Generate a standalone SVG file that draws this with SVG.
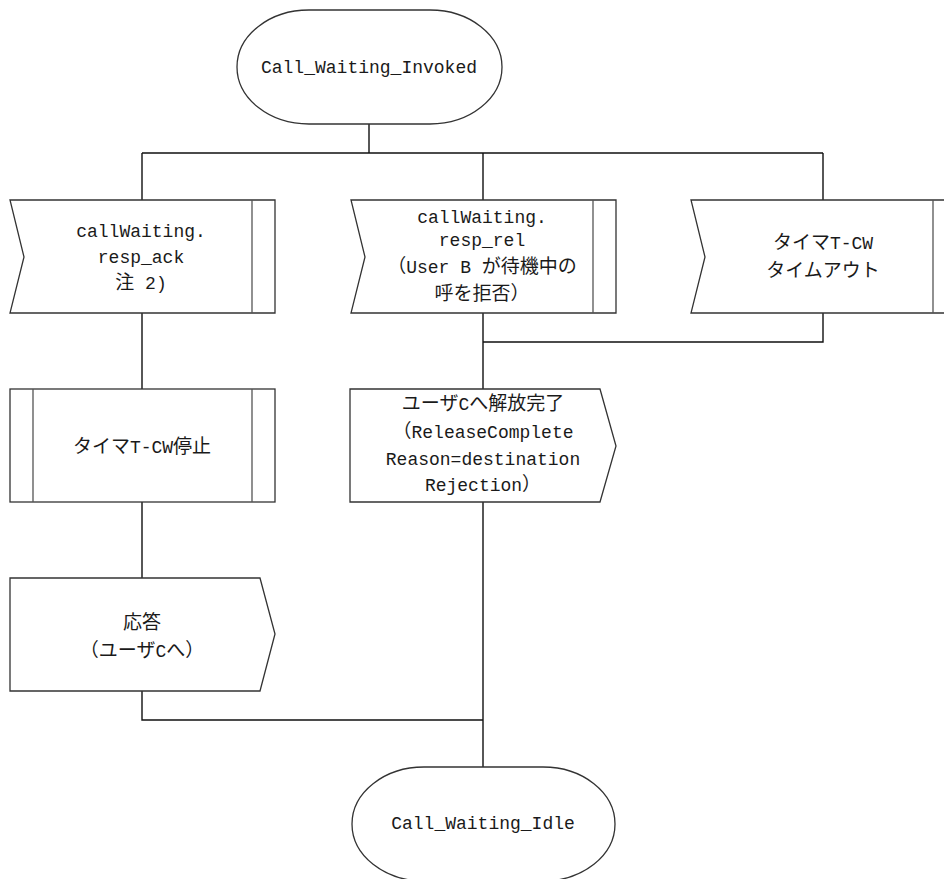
<svg xmlns="http://www.w3.org/2000/svg" width="944" height="879" viewBox="0 0 944 879">
<style>
.shape{fill:#fff;stroke:#333;stroke-width:1.3}
.bar{fill:none;stroke:#555;stroke-width:1.3}
.conn{fill:none;stroke:#111;stroke-width:1.4}
text{font-family:"Liberation Mono","Noto Sans CJK JP",monospace;font-size:18px;fill:#1a1a1a;text-anchor:middle}
.j{font-family:"Noto Sans CJK JP",sans-serif;font-size:19px}
</style>
<rect width="944" height="879" fill="#fff"/>
<g id="connectors">
<path class="conn" d="M369 124V153M142 153H823M142 153V200M483 153V200M823 153V200"/>
<path class="conn" d="M142 313V389M142 502V578M142 691V720H483"/>
<path class="conn" d="M483 313V389M823 313V342H483M483 502V767"/>
</g>
<g id="start">
<rect class="shape" x="237" y="10" width="265" height="114" rx="72" ry="57"/>
<text x="369" y="73">Call_Waiting_Invoked</text>
</g>
<g id="in_ack">
<path class="shape" d="M10 200H275V313H10L24 257Z"/>
<path class="bar" d="M252 200V313"/>
<text x="141" y="237">callWaiting.</text>
<text x="141" y="263">resp_ack</text>
<text x="141" y="289"><tspan class="j">注</tspan> 2)</text>
</g>
<g id="in_rel">
<path class="shape" d="M351 200H616V313H351L365 257Z"/>
<path class="bar" d="M593 200V313"/>
<text x="482" y="223">callWaiting.</text>
<text x="482" y="246">resp_rel</text>
<text x="482" y="273"><tspan class="j">（</tspan>User B <tspan class="j">が待機中の</tspan></text>
<text x="482" y="300"><tspan class="j">呼を拒否）</tspan></text>
</g>
<g id="in_timeout">
<path class="shape" d="M691 200H956V313H691L705 257Z"/>
<path class="bar" d="M933 200V313"/>
<text x="823" y="249"><tspan class="j">タイマ</tspan>T-CW</text>
<text x="823" y="277"><tspan class="j">タイムアウト</tspan></text>
</g>
<g id="task_stop">
<rect class="shape" x="10" y="389" width="265" height="113"/>
<path class="bar" d="M33 389V502M252 389V502"/>
<text x="142" y="453"><tspan class="j">タイマ</tspan>T-CW<tspan class="j">停止</tspan></text>
</g>
<g id="out_release">
<path class="shape" d="M350 389H600L616 446L600 502H350Z"/>
<text x="483" y="410"><tspan class="j">ユーザ</tspan>C<tspan class="j">へ解放完了</tspan></text>
<text x="483" y="438"><tspan class="j">（</tspan>ReleaseComplete</text>
<text x="483" y="465">Reason=destination</text>
<text x="483" y="491">Rejection<tspan class="j">）</tspan></text>
</g>
<g id="out_answer">
<path class="shape" d="M10 578H260L275 634L260 691H10Z"/>
<text x="142" y="629" class="j">応答</text>
<text x="142" y="657"><tspan class="j">（ユーザ</tspan>C<tspan class="j">へ）</tspan></text>
</g>
<g id="end">
<rect class="shape" x="352" y="767" width="263" height="114" rx="72" ry="57"/>
<text x="483" y="829">Call_Waiting_Idle</text>
</g>
</svg>
